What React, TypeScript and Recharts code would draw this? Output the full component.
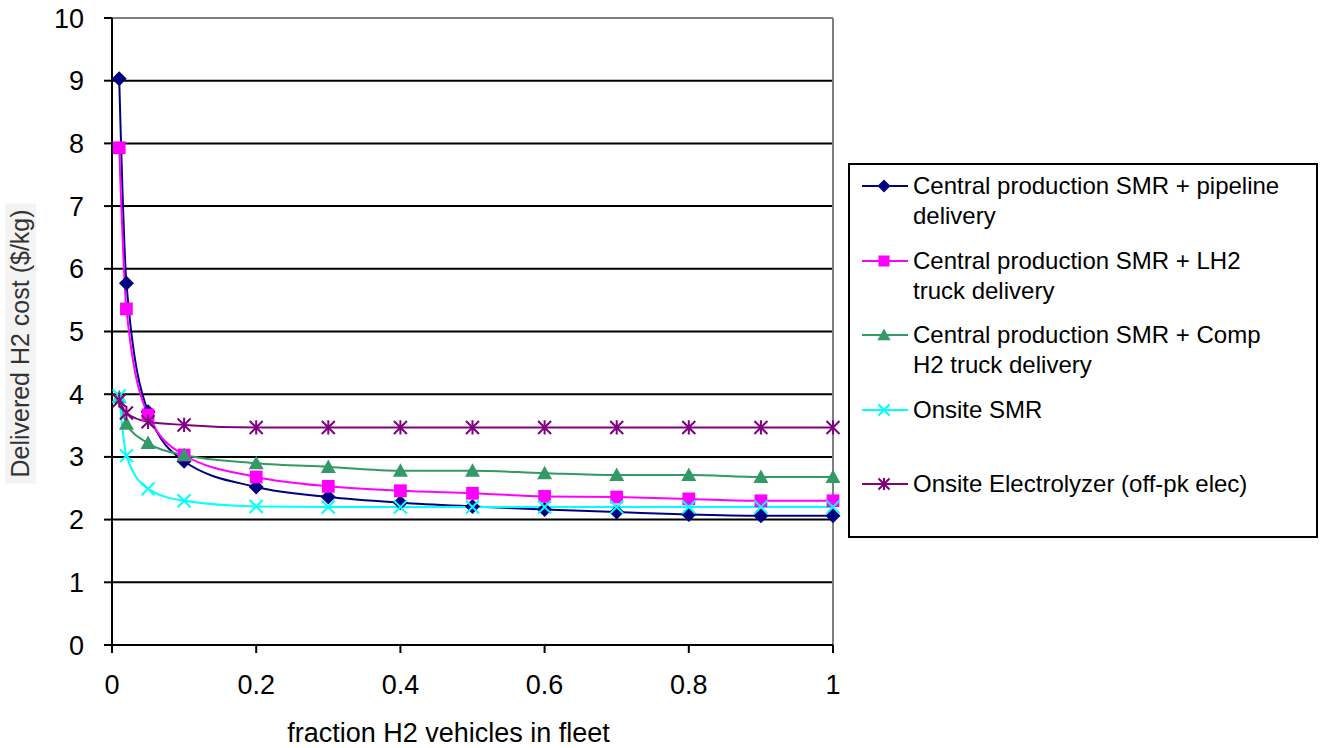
import React from 'react';
import { LineChart, Line, XAxis, YAxis, CartesianGrid, Legend, ReferenceLine, Label } from 'recharts';

const fractions = [0.01, 0.02, 0.05, 0.1, 0.2, 0.3, 0.4, 0.5, 0.6, 0.7, 0.8, 0.9, 1.0];
const pipeline = [9.03, 5.77, 3.72, 2.93, 2.52, 2.36, 2.27, 2.21, 2.16, 2.12, 2.08, 2.06, 2.06];
const lh2Truck = [7.93, 5.36, 3.67, 3.03, 2.68, 2.53, 2.46, 2.42, 2.37, 2.36, 2.33, 2.3, 2.3];
const compTruck = [3.95, 3.53, 3.22, 3.03, 2.9, 2.84, 2.78, 2.78, 2.74, 2.71, 2.71, 2.68, 2.68];
const onsiteSMR = [3.97, 3.02, 2.49, 2.3, 2.21, 2.2, 2.2, 2.2, 2.2, 2.2, 2.2, 2.2, 2.2];
const electrolyzer = [3.9, 3.7, 3.56, 3.51, 3.47, 3.47, 3.47, 3.47, 3.47, 3.47, 3.47, 3.47, 3.47];

const xTicks = [0, 0.2, 0.4, 0.6, 0.8, 1];
const yTicks = [0, 1, 2, 3, 4, 5, 6, 7, 8, 9, 10];

const xTitle = 'fraction H2 vehicles in fleet';
const yTitle = 'Delivered H2 cost ($/kg)';

const series = [
  { key: 'pipeline', name: 'Central production SMR + pipeline delivery', color: '#000080', marker: 'diamond' },
  { key: 'lh2Truck', name: 'Central production SMR + LH2 truck delivery', color: '#FF00FF', marker: 'square' },
  { key: 'compTruck', name: 'Central production SMR + Comp H2 truck delivery', color: '#339966', marker: 'triangle' },
  { key: 'onsiteSMR', name: 'Onsite SMR', color: '#00FFFF', marker: 'x' },
  { key: 'electrolyzer', name: 'Onsite Electrolyzer (off-pk elec)', color: '#800080', marker: 'star' },
];

const data = fractions.map((f, i) => ({
  f,
  pipeline: pipeline[i],
  lh2Truck: lh2Truck[i],
  compTruck: compTruck[i],
  onsiteSMR: onsiteSMR[i],
  electrolyzer: electrolyzer[i],
}));

const FONT = '"Liberation Sans", Arial, Helvetica, sans-serif';

function Marker({ kind, cx, cy, color, s }: { kind: string; cx: number; cy: number; color: string; s: number }) {
  if (cx == null || cy == null || isNaN(cx) || isNaN(cy)) return null;
  switch (kind) {
    case 'diamond':
      return <polygon points={`${cx},${cy - s} ${cx + s},${cy} ${cx},${cy + s} ${cx - s},${cy}`} fill={color} />;
    case 'square':
      return <rect x={cx - s * 0.85} y={cy - s * 0.85} width={s * 1.7} height={s * 1.7} fill={color} />;
    case 'triangle':
      return <polygon points={`${cx},${cy - s} ${cx + s},${cy + s * 0.8} ${cx - s},${cy + s * 0.8}`} fill={color} />;
    case 'x':
      return (
        <path
          d={`M${cx - s},${cy - s}L${cx + s},${cy + s}M${cx - s},${cy + s}L${cx + s},${cy - s}`}
          stroke={color}
          strokeWidth={2}
          fill="none"
        />
      );
    case 'star':
      return (
        <path
          d={`M${cx - s},${cy - s}L${cx + s},${cy + s}M${cx - s},${cy + s}L${cx + s},${cy - s}M${cx},${cy - s * 1.1}L${cx},${cy + s * 1.1}`}
          stroke={color}
          strokeWidth={2}
          fill="none"
        />
      );
    default:
      return null;
  }
}

const markerSize: Record<string, number> = { diamond: 7.5, square: 7.5, triangle: 7.5, x: 6.5, star: 6.5 };

function renderLegend(props: any) {
  const payload = props.payload || [];
  const ordered = series.map((s) => ({ s, p: payload.find((p: any) => p.dataKey === s.key) }));
  return (
    <div
      style={{
        boxSizing: 'border-box',
        width: 470,
        height: 375,
        border: '2px solid #000',
        background: '#fff',
        paddingTop: 6,
        paddingLeft: 12,
        fontFamily: FONT,
        fontSize: 24,
        lineHeight: '30px',
        color: '#000',
      }}
    >
      {ordered.map(({ s, p }) => (
        <div key={s.key} style={{ display: 'flex', alignItems: 'flex-start', height: 74.5 }}>
          <svg width={46} height={30} style={{ flex: 'none' }}>
            <line x1={0} y1={15} x2={46} y2={15} stroke={s.color} strokeWidth={2} />
            <Marker kind={s.marker} cx={22} cy={15} color={s.color} s={markerSize[s.marker] - 1} />
          </svg>
          <div style={{ width: 375, marginLeft: 5 }}>{p ? p.value : s.name}</div>
        </div>
      ))}
    </div>
  );
}

export default function App() {
  return (
    <div style={{ position: 'absolute', left: 0, top: 0, width: 1321, height: 748, background: '#fff' }}>
      <LineChart
        width={1321}
        height={748}
        data={data}
        margin={{ top: 18, right: 488, bottom: 0, left: 0 }}
      >
        <CartesianGrid vertical={false} stroke="#000" strokeWidth={2} />
        <XAxis
          dataKey="f"
          type="number"
          domain={[0, 1]}
          ticks={xTicks}
          tickFormatter={(v: number) => String(v)}
          height={103}
          tickSize={8}
          tickMargin={22}
          axisLine={{ stroke: '#000', strokeWidth: 2 }}
          tickLine={{ stroke: '#000', strokeWidth: 2 }}
          tick={{ fill: '#000', fontSize: 27, fontFamily: FONT }}
        >
          <Label
            content={(props: any) => {
              const vb = props.viewBox || {};
              const x = vb.x + vb.width / 2 - 24;
              const y = vb.y + 97;
              return (
                <text x={x} y={y} textAnchor="middle" fontFamily={FONT} fontSize={27} fill="#000">
                  {xTitle}
                </text>
              );
            }}
          />
        </XAxis>
        <YAxis
          type="number"
          domain={[0, 10]}
          ticks={yTicks}
          width={112}
          tickSize={8}
          tickMargin={20}
          axisLine={{ stroke: '#000', strokeWidth: 2 }}
          tickLine={{ stroke: '#000', strokeWidth: 2 }}
          tick={{ fill: '#000', fontSize: 27, fontFamily: FONT }}
        >
          <Label
            content={(props: any) => {
              const vb = props.viewBox || {};
              const cx = vb.x + 20;
              const cy = vb.y + vb.height / 2 + 12;
              return (
                <g>
                  <rect x={cx - 15} y={cy - 140} width={31} height={280} fill="#f3f3f3" />
                  <text
                    x={cx}
                    y={cy}
                    transform={`rotate(-90 ${cx} ${cy})`}
                    textAnchor="middle"
                    dominantBaseline="central"
                    fontFamily={FONT}
                    fontSize={25}
                    fill="#333"
                  >
                    {yTitle}
                  </text>
                </g>
              );
            }}
          />
        </YAxis>
        <ReferenceLine y={10} stroke="#808080" strokeWidth={2} />
        <ReferenceLine x={1} stroke="#808080" strokeWidth={2} />
        <Legend
          layout="vertical"
          align="center"
          verticalAlign="middle"
          content={renderLegend}
          wrapperStyle={{ left: 848, top: 163, width: 470, height: 375 }}
        />
        {series.map((s) => (
          <Line
            key={s.key}
            dataKey={s.key}
            name={s.name}
            type="monotone"
            stroke={s.color}
            strokeWidth={2}
            isAnimationActive={false}
            activeDot={false}
            dot={(p: any) => (
              <Marker
                key={`${s.key}-${p.index}`}
                kind={s.marker}
                cx={p.cx}
                cy={p.cy}
                color={s.color}
                s={markerSize[s.marker]}
              />
            )}
          />
        ))}
      </LineChart>
    </div>
  );
}
